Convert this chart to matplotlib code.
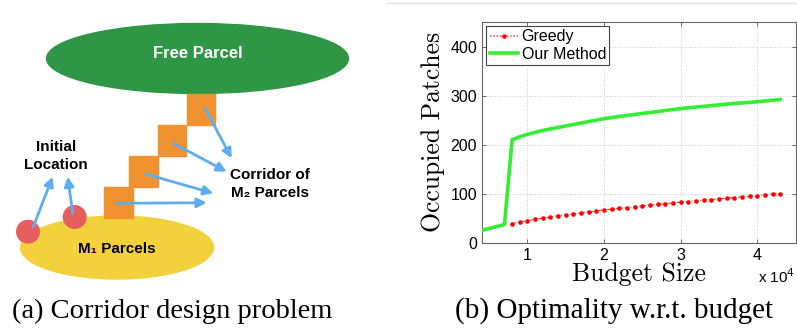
import matplotlib.pyplot as plt
from matplotlib.patches import Ellipse, Rectangle, Circle
from matplotlib.ticker import FuncFormatter
from matplotlib.lines import Line2D

# budget sizes and occupied patches for the two methods
budget_greedy = [8000, 9000, 10000, 11000, 12000, 13000, 14000, 15000, 16000,
                 17000, 18000, 19000, 20000, 21000, 22000, 23000, 24000, 25000,
                 26000, 27000, 28000, 29000, 30000, 31000, 32000, 33000, 34000,
                 35000, 36000, 37000, 38000, 39000, 40000, 41000, 42000, 43000]
greedy = [39, 42, 45, 47.5, 50, 52.5, 55, 57, 59,
          61, 63, 65, 67, 68.5, 70, 71.5, 73, 75,
          76.5, 78, 79.5, 81, 82.5, 84, 85.5, 87, 88,
          89.5, 90.5, 92, 93.5, 95, 96, 97.5, 99, 100]

budget_ours = [4000, 5000, 6000, 7000] + budget_greedy
ours = [25, 29, 33, 37,
        210, 216, 221, 225, 229, 232, 235, 238, 241,
        244, 247, 250, 253, 255, 257.5, 259.5, 261.5, 263.5,
        265.5, 267.5, 269.5, 271.5, 273.5, 275, 276.5, 278, 279.5,
        281, 282.5, 284, 285, 286, 287.5, 289, 290.5, 292]

y_ticks = [0, 100, 200, 300, 400]
x_ticks = [10000, 20000, 30000, 40000]
series_names = ['Greedy', 'Our Method']

sans = ['Liberation Sans', 'DejaVu Sans']
serif = 'Liberation Serif'

fig = plt.figure(figsize=(7.97, 3.28), dpi=100)

# ---- (a) corridor diagram, drawn in pixel coordinates ----
ad = fig.add_axes([0, 0, 400 / 797, 1])
ad.set_xlim(0, 400)
ad.set_ylim(328, 0)
ad.axis('off')

blue = '#5eadf0'
ad.add_patch(Ellipse((197.5, 58.5), 302, 70, color='#2f9646', zorder=1))
ad.text(197.5, 53, 'Free Parcel', color='white', fontsize=12, fontweight='bold',
        family=sans, ha='center', va='center', zorder=5)

ad.add_patch(Ellipse((117, 247.5), 193, 63, color='#f3d13d', zorder=1))
ad.text(117, 249, 'M\u2081 Parcels', color='black', fontsize=11, fontweight='bold',
        family=sans, ha='center', va='center', zorder=5)

for x0, y0 in [(186.7, 94.3), (157.7, 125.0), (129.0, 156.0), (104.3, 187.3)]:
    ad.add_patch(Rectangle((x0, y0), 28.5, 31, color='#ef922f', zorder=2))

for cx, cy in [(28, 231.7), (74.7, 217)]:
    ad.add_patch(Circle((cx, cy), 11.3, color='#e65d5e', zorder=3))

arrows = [((33.3, 226.7), (52.7, 176.7)),
          ((72.7, 213.3), (67.7, 176.7)),
          ((205, 108.3), (231.7, 158.3)),
          ((173.3, 143.3), (226.7, 171.7)),
          ((145.7, 174), (213.3, 193.3)),
          ((116.7, 203.3), (206.7, 202.7))]
for start, end in arrows:
    ad.annotate('', xy=end, xytext=start, zorder=4,
                arrowprops=dict(arrowstyle='-|>', color=blue, lw=2,
                                mutation_scale=14, shrinkA=0, shrinkB=0))

ad.text(55.7, 156, 'Initial\nLocation', fontsize=11, fontweight='bold',
        family=sans, ha='center', va='center', linespacing=1.3)
ad.text(270, 184, 'Corridor of\nM\u2082 Parcels', fontsize=11, fontweight='bold',
        family=sans, ha='center', va='center', linespacing=1.3)

ad.text(172, 311, '(a) Corridor design problem', fontsize=20.5, family=serif,
        ha='center', va='center')

# ---- (b) occupied patches vs budget ----
ax = fig.add_axes([482.5 / 797, (328 - 242.7) / 328, 313 / 797, 220.7 / 328])
ax.plot(budget_greedy, greedy, color='#ff2020', ls=(0, (4, 2, 1, 2)), lw=0.7,
        marker='o', ms=3.3, mec='none', mfc='#ff0000', zorder=3)
ax.plot(budget_ours, ours, color='#33ee33', lw=2.6, zorder=4)

ax.set_xlim(4130, 45000)
ax.set_ylim(0, 450)
ax.set_xticks(x_ticks)
ax.set_yticks(y_ticks)
ax.xaxis.set_major_formatter(FuncFormatter(lambda v, p: '%d' % round(v / 1e4)))
ax.tick_params(direction='in', top=True, right=True, length=3, width=0.6,
               color='#555555', labelsize=11.5, pad=4)
for lab in ax.get_xticklabels() + ax.get_yticklabels():
    lab.set_family(sans)
for sp in ax.spines.values():
    sp.set_color('#666666')
    sp.set_linewidth(0.8)
ax.grid(True, ls=(0, (1, 2)), color='#bbbbbb', lw=0.6)

ax.set_ylabel('Occupied Patches', family='cmr10', fontsize=18.5, labelpad=4)
ax.set_xlabel('Budget Size', family='cmr10', fontsize=18.5, labelpad=-1)
ax.text(1.0, -0.155, 'x 10$^4$', transform=ax.transAxes, ha='right', va='center',
        fontsize=11, family=sans)

handles = [Line2D([], [], color='#ff6060', ls=(0, (1, 1)), lw=1.2, marker='o',
                  ms=3.3, mec='none', mfc='#ff0000'),
           Line2D([], [], color='#33ee33', lw=2.6)]
leg = ax.legend(handles, series_names, loc='upper left', numpoints=1,
                prop={'family': sans, 'size': 11.5}, handlelength=1.8,
                handletextpad=0.2, borderpad=0.2, labelspacing=0.15,
                borderaxespad=0.25, fancybox=False, framealpha=1)
leg.get_frame().set_edgecolor('#444444')
leg.get_frame().set_linewidth(0.8)

fig.text(614 / 797, 1 - 311 / 328, '(b) Optimality w.r.t. budget', fontsize=21,
         family=serif, ha='center', va='center')

# thin rule along the top of the page
fig.add_artist(Line2D([387 / 797, 1], [1 - 2.5 / 328, 1 - 2.5 / 328],
                      color='#e2e2e2', lw=1))

fig.savefig('out.png', dpi=100)
